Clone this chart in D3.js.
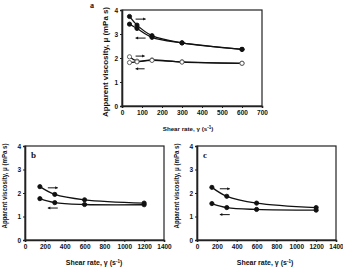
<!DOCTYPE html>
<html><head><meta charset="utf-8">
<script src="https://cdn.jsdelivr.net/npm/d3@7"></script>
<style>
html,body{margin:0;padding:0;background:#fff;}
svg text{font-family:"Liberation Sans",Arial,sans-serif;font-weight:700;fill:#111;}
</style></head>
<body><svg id="c" width="343" height="271"></svg>
<script>
// ---- data ----
const shearA = [37.5, 75, 150, 300, 600];
const aFilledUp = [3.73, 3.37, 2.93, 2.63, 2.36];
const aFilledDown = [3.41, 3.23, 2.86, 2.63, 2.36];
const aOpenUp = [2.05, 1.87, 1.92, 1.84, 1.78];
const aOpenDown = [1.81, 1.84, 1.90, 1.83, 1.78];
const shearBC = [150, 300, 600, 1200];
const bUp = [2.27, 1.94, 1.71, 1.57];
const bDown = [1.76, 1.59, 1.51, 1.50];
const cUp = [2.24, 1.86, 1.57, 1.38];
const cDown = [1.55, 1.38, 1.30, 1.27];
const xTicksA = [0, 100, 200, 300, 400, 500, 600, 700];
const xTicksBC = [0, 200, 400, 600, 800, 1000, 1200, 1400];
const yTicks = [0, 1, 2, 3, 4];
const yLabel = "Apparent viscosity, \u03bc (mPa s)";

const svg = d3.select("#c");

function panel(cfg) {
  const x = d3.scaleLinear().domain(cfg.xDomain).range([cfg.left, cfg.right]);
  const y = d3.scaleLinear().domain([0, 4]).range([cfg.bottom, cfg.top]);
  const g = svg.append("g");
  g.append("rect").attr("x", cfg.left).attr("y", cfg.top)
    .attr("width", cfg.right - cfg.left).attr("height", cfg.bottom - cfg.top)
    .attr("fill", "none").attr("stroke", "#222").attr("stroke-width", 1.2);
  const xa = g.append("g").attr("transform", `translate(0,${cfg.bottom})`)
    .call(d3.axisBottom(x).tickValues(cfg.xTicks).tickSize(2).tickFormat(d3.format("d")));
  const ya = g.append("g").attr("transform", `translate(${cfg.left},0)`)
    .call(d3.axisLeft(y).tickValues(yTicks).tickSize(2).tickFormat(d3.format("d")));
  [xa, ya].forEach(a => {
    a.attr("font-family", null).attr("font-size", null);
    a.select(".domain").attr("stroke", "#222").attr("stroke-width", 1.6);
    a.selectAll(".tick line").attr("stroke", "#222");
    a.selectAll("text").attr("font-size", cfg.tickFont).attr("font-weight", 700).attr("fill", "#111");
  });
  xa.selectAll("text").attr("dy", "0.71em").attr("y", 4);
  ya.selectAll("text").attr("x", -4);
  g.append("text").attr("x", cfg.xtX).attr("y", cfg.xtY).attr("text-anchor", "middle")
    .attr("font-size", cfg.xtFont)
    .html('Shear rate, \u03b3 (s<tspan font-size="4.5" dy="-2.5">-1</tspan><tspan dy="2.5">)</tspan>');
  g.append("text").attr("transform", `translate(${cfg.ytX},${cfg.ytY}) rotate(-90)`)
    .attr("text-anchor", "middle").attr("font-size", cfg.ytFont)
    .attr("textLength", cfg.ytLen).attr("lengthAdjust", "spacingAndGlyphs").text(yLabel);
  g.append("text").attr("x", cfg.letX).attr("y", cfg.letY)
    .style("font-family", "'Liberation Serif','Times New Roman',serif")
    .attr("font-size", cfg.letFont).text(cfg.letter);
  const line = d3.line().x(d => x(d[0])).y(d => y(d[1])).curve(d3.curveCatmullRom.alpha(0.5));
  cfg.series.forEach(s => {
    const pts = cfg.xs.map((v, i) => [v, s.vals[i]]);
    g.append("path").datum(pts).attr("d", line).attr("fill", "none")
      .attr("stroke", "#111").attr("stroke-width", 1.3);
    g.selectAll(null).data(pts).enter().append("circle")
      .attr("cx", d => x(d[0])).attr("cy", d => y(d[1])).attr("r", 2.1)
      .attr("fill", s.open ? "#fff" : "#111").attr("stroke", s.open ? "#555" : "#111")
      .attr("stroke-width", 0.9);
  });
  cfg.arrows.forEach(a => {
    const x1 = x(a[0]), x2 = x(a[1]), yy = y(a[2]);
    g.append("line").attr("x1", x1).attr("x2", x2).attr("y1", yy).attr("y2", yy)
      .attr("stroke", "#111").attr("stroke-width", 1);
    const dir = Math.sign(x2 - x1);
    g.append("path").attr("d", `M${x2},${yy} L${x2 - dir * 2.5},${yy - 1.5} L${x2 - dir * 2.5},${yy + 1.5} Z`)
      .attr("fill", "#111");
  });
}

panel({
  xDomain: [0, 700], xTicks: xTicksA, left: 122, right: 262, top: 10, bottom: 106,
  tickFont: 6.5, xtX: 188, xtY: 131, xtFont: 6.2, ytX: 108, ytY: 62, ytLen: 110, ytFont: 7.5,
  letter: "a", letX: 90, letY: 8, letFont: 8,
  xs: shearA,
  series: [{vals: aFilledUp}, {vals: aFilledDown}, {vals: aOpenUp, open: true}, {vals: aOpenDown, open: true}],
  arrows: [[68, 118, 3.62], [118, 68, 2.83], [68, 113, 2.08], [113, 68, 1.55]]
});
panel({
  xDomain: [0, 1400], xTicks: xTicksBC, left: 25, right: 164, top: 146, bottom: 240,
  tickFont: 6.5, xtX: 94, xtY: 265, xtFont: 7, ytX: 7, ytY: 186, ytLen: 85, ytFont: 6.5,
  letter: "b", letX: 31, letY: 158, letFont: 9,
  xs: shearBC,
  series: [{vals: bUp}, {vals: bDown}],
  arrows: [[230, 330, 2.22], [330, 230, 1.36]]
});
panel({
  xDomain: [0, 1400], xTicks: xTicksBC, left: 197, right: 336, top: 146, bottom: 240,
  tickFont: 6.5, xtX: 265, xtY: 265, xtFont: 7, ytX: 179, ytY: 186, ytLen: 85, ytFont: 6.5,
  letter: "c", letX: 203, letY: 158, letFont: 9,
  xs: shearBC,
  series: [{vals: cUp}, {vals: cDown}],
  arrows: [[230, 330, 2.18], [330, 230, 1.08]]
});
</script></body></html>
